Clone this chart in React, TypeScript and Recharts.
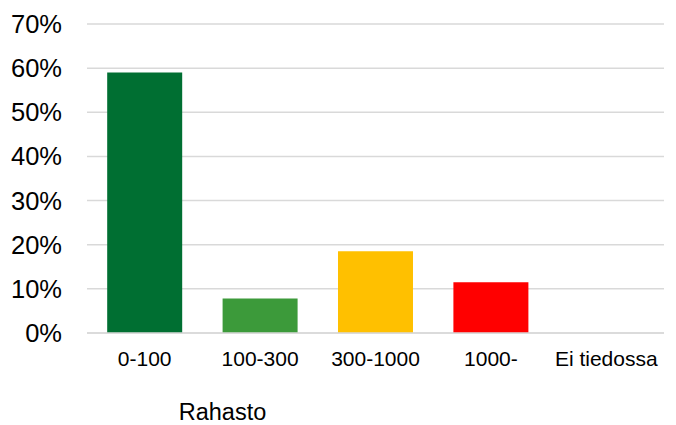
import { BarChart, Bar, XAxis, YAxis, CartesianGrid, Cell } from "recharts";

const categories = ["0-100", "100-300", "300-1000", "1000-", "Ei tiedossa"];
const shares = [59.0, 7.8, 18.5, 11.5, 0];
const barColors = ["#006F32", "#3C9A3A", "#FFC000", "#FF0000", "#A0A0A0"];
const yTicks = [0, 10, 20, 30, 40, 50, 60, 70];

const data = categories.map((name, i) => ({ name, value: shares[i] }));

export default function App() {
  return (
    <div style={{ position: "absolute", left: 0, top: 0, background: "#fff" }}>
      <BarChart
        width={676}
        height={425}
        data={data}
        margin={{ top: 24, right: 12, left: 0, bottom: 0 }}
        barCategoryGap="17.5%"
      >
        <CartesianGrid vertical={false} stroke="#D9D9D9" strokeWidth={1.5} />
        <XAxis
          dataKey="name"
          height={92}
          axisLine={{ stroke: "#D9D9D9", strokeWidth: 1.5 }}
          tickLine={false}
          tickSize={6}
          tickMargin={12}
          interval={0}
          tick={{ fontSize: 21, fill: "#000", fontFamily: "Liberation Sans, Arial, sans-serif" }}
          label={{
            value: "Rahasto",
            position: "insideBottom",
            dx: -153,
            dy: 0,
            fontSize: 23.5,
            fill: "#000",
            fontFamily: "Liberation Sans, Arial, sans-serif",
          }}
        />
        <YAxis
          width={87}
          domain={[0, 70]}
          ticks={yTicks}
          axisLine={false}
          tickLine={false}
          tickSize={6}
          tickMargin={19}
          tickFormatter={(v) => `${v}%`}
          tick={{ fontSize: 25.5, fill: "#000", fontFamily: "Liberation Sans, Arial, sans-serif" }}
        />
        <Bar dataKey="value" isAnimationActive={false}>
          {data.map((d, i) => (
            <Cell key={d.name} fill={barColors[i]} />
          ))}
        </Bar>
      </BarChart>
    </div>
  );
}
